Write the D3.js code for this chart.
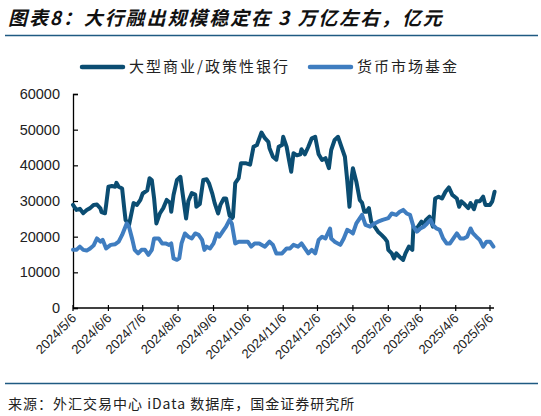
<!DOCTYPE html>
<html>
<head>
<meta charset="utf-8">
<script src="https://cdn.jsdelivr.net/npm/d3@7"></script>
<style>
  body { margin: 0; background: #fff; }
  svg { display: block; }
</style>
</head>
<body>
<div id="chart"></div>
<script>
// Data
var seriesNames = ["大型商业/政策性银行", "货币市场基金"];
var tickLabels = ["2024/5/6", "2024/6/6", "2024/7/6", "2024/8/6", "2024/9/6", "2024/10/6", "2024/11/6",
    "2024/12/6", "2025/1/6", "2025/2/6", "2025/3/6", "2025/4/6", "2025/5/6"];
var yTicks = [0, 10000, 20000, 30000, 40000, 50000, 60000];

// 大型商业/政策性银行
var bankDates = ["2024-05-06","2024-05-09","2024-05-12","2024-05-15","2024-05-18","2024-05-21","2024-05-24","2024-05-27",
    "2024-05-30","2024-05-31","2024-06-03","2024-06-04","2024-06-06","2024-06-09","2024-06-12","2024-06-13","2024-06-15",
    "2024-06-18","2024-06-20","2024-06-21","2024-06-24","2024-06-28","2024-07-01","2024-07-04","2024-07-06","2024-07-10",
    "2024-07-12","2024-07-14","2024-07-16","2024-07-18","2024-07-21","2024-07-24","2024-07-27","2024-07-30","2024-07-31",
    "2024-08-02","2024-08-05","2024-08-08","2024-08-10","2024-08-13","2024-08-15","2024-08-18","2024-08-21","2024-08-22",
    "2024-08-25","2024-08-28","2024-08-31","2024-09-02","2024-09-05","2024-09-07","2024-09-10","2024-09-12","2024-09-15",
    "2024-09-17","2024-09-20","2024-09-22","2024-09-23","2024-09-25","2024-09-28","2024-09-30","2024-10-04","2024-10-08",
    "2024-10-11","2024-10-14","2024-10-18","2024-10-21","2024-10-24","2024-10-25","2024-10-28","2024-10-31","2024-11-02",
    "2024-11-05","2024-11-06","2024-11-09","2024-11-11","2024-11-13","2024-11-15","2024-11-18","2024-11-21","2024-11-22",
    "2024-11-25","2024-11-28","2024-12-01","2024-12-04","2024-12-07","2024-12-10","2024-12-13","2024-12-16","2024-12-18",
    "2024-12-21","2024-12-24","2024-12-27","2024-12-30","2025-01-01","2025-01-03","2025-01-05","2025-01-06","2025-01-09",
    "2025-01-12","2025-01-14","2025-01-16","2025-01-18","2025-01-20","2025-01-22","2025-01-25","2025-01-28","2025-01-31",
    "2025-02-03","2025-02-05","2025-02-06","2025-02-09","2025-02-11","2025-02-13","2025-02-16","2025-02-19","2025-02-21",
    "2025-02-24","2025-02-27","2025-02-28","2025-03-01","2025-03-04","2025-03-07","2025-03-09","2025-03-11","2025-03-14",
    "2025-03-17","2025-03-19","2025-03-22","2025-03-25","2025-03-28","2025-03-31","2025-04-03","2025-04-07","2025-04-09",
    "2025-04-11","2025-04-14","2025-04-17","2025-04-19","2025-04-22","2025-04-24","2025-04-27","2025-04-30","2025-05-02",
    "2025-05-06","2025-05-08","2025-05-10"];
var bankValues = [28900, 27500, 27800, 26600, 27500, 28000, 28900, 29000,
    27950, 26900, 26550, 28900, 34000, 34200, 34000, 35100, 34000,
    33500, 27500, 24700, 23200, 29400, 28900, 30300, 32100, 33000,
    36400, 35800, 30700, 23700, 26500, 28000, 30300, 29500, 27000,
    31700, 35900, 36800, 32000, 25100, 30000, 32200, 31800, 28400,
    29200, 35900, 36100, 35000, 32000, 29400, 26500, 28900, 30700,
    30700, 26000, 25100, 25500, 35000, 36400, 40600, 40600, 40200,
    45200, 45700, 49200, 47600, 46600, 44800, 42400, 41600, 45200,
    45700, 48000, 45200, 41600, 38200, 43400, 42800, 43100, 44500,
    43100, 45200, 47600, 48000, 43100, 41500, 42000, 39200, 44300,
    47100, 48000, 45200, 42400, 35900, 28400, 36800, 39200, 35400,
    30300, 29500, 27000, 27000, 28000, 24200, 22800, 21400, 20500,
    19500, 18600, 16300, 15300, 13900, 15300, 14300, 13500, 15300,
    17200, 16300, 22800, 21900, 22800, 24200, 23300, 24700, 25600,
    22800, 30700, 31200, 30700, 32600, 33800, 31700, 30700, 28400,
    29900, 29000, 28000, 29400, 27700, 29900, 29900, 31200, 28900,
    28900, 29900, 32600];

// 货币市场基金
var fundDates = ["2024-05-06","2024-05-09","2024-05-12","2024-05-15","2024-05-18","2024-05-21","2024-05-24","2024-05-27",
    "2024-05-30","2024-06-01","2024-06-04","2024-06-08","2024-06-12","2024-06-15","2024-06-18","2024-06-22","2024-06-24",
    "2024-06-27","2024-06-29","2024-07-02","2024-07-05","2024-07-08","2024-07-11","2024-07-14","2024-07-16","2024-07-20",
    "2024-07-23","2024-07-26","2024-07-29","2024-07-31","2024-08-02","2024-08-05","2024-08-07","2024-08-09","2024-08-12",
    "2024-08-15","2024-08-18","2024-08-21","2024-08-24","2024-08-27","2024-08-29","2024-08-31","2024-09-03","2024-09-06",
    "2024-09-09","2024-09-11","2024-09-15","2024-09-17","2024-09-20","2024-09-22","2024-09-25","2024-09-28","2024-10-02",
    "2024-10-06","2024-10-09","2024-10-12","2024-10-16","2024-10-21","2024-10-25","2024-10-28","2024-10-31","2024-11-05",
    "2024-11-09","2024-11-12","2024-11-15","2024-11-19","2024-11-22","2024-11-25","2024-11-28","2024-12-01","2024-12-04",
    "2024-12-07","2024-12-10","2024-12-13","2024-12-17","2024-12-18","2024-12-21","2024-12-26","2024-12-29","2025-01-01",
    "2025-01-04","2025-01-06","2025-01-09","2025-01-14","2025-01-17","2025-01-21","2025-01-25","2025-01-28","2025-02-01",
    "2025-02-06","2025-02-09","2025-02-13","2025-02-16","2025-02-19","2025-02-22","2025-02-25","2025-02-28","2025-03-03",
    "2025-03-06","2025-03-09","2025-03-12","2025-03-15","2025-03-17","2025-03-20","2025-03-23","2025-03-26","2025-03-29",
    "2025-04-01","2025-04-04","2025-04-07","2025-04-10","2025-04-13","2025-04-16","2025-04-19","2025-04-21","2025-04-24",
    "2025-04-27","2025-04-30","2025-05-03","2025-05-06","2025-05-09"];
var fundValues = [16300, 16300, 17200, 16300, 16100, 16700, 17500, 19500,
    18600, 19100, 16700, 17700, 17900, 18600, 20500, 23700, 22800,
    19100, 16300, 15300, 16300, 16300, 14900, 16300, 19500, 19500,
    18100, 18100, 17700, 18100, 13900, 13500, 13900, 18100, 20900,
    20000, 19500, 20900, 20500, 19100, 16300, 17200, 16700, 18100,
    20900, 20000, 21900, 22800, 24700, 23700, 18100, 18600, 18600,
    18600, 17200, 18100, 18100, 17200, 18600, 17700, 15300, 15300,
    16700, 16700, 17700, 17200, 18100, 16700, 15300, 16300, 15300,
    19100, 20000, 19500, 22300, 19500, 18600, 17700, 19500, 21900,
    21400, 20900, 23700, 26100, 23300, 22800, 23700, 24200, 24700,
    25200, 26500, 26100, 27000, 27500, 26500, 26100, 22800, 21400,
    22300, 22800, 23700, 24700, 23300, 22300, 21900, 19500, 18100,
    18100, 19500, 20900, 19500, 19500, 20000, 22300, 21000, 20000,
    19100, 17200, 18600, 18600, 17200];

var colors = ["#0b4d72", "#3f7dc0"];
var frameColor = "#1f5a82";

// dimensions
var svgWidth = 541;
var svgHeight = 416;
var plotLeft = 73, plotRight = 490, plotTop = 94, plotBottom = 308;

var cjkFont = "'Noto Sans CJK SC', 'Noto Sans', sans-serif";
var numFont = "'Liberation Sans', Arial, sans-serif";

var parseDate = d3.timeParse("%Y-%m-%d");
var parseTick = d3.timeParse("%Y/%m/%d");

var svg = d3.select("#chart")
    .append("svg")
        .attr("width", svgWidth)
        .attr("height", svgHeight);

// Title and rules
svg.append("text")
    .attr("x", 8)
    .attr("y", 25)
    .attr("font-family", cjkFont)
    .attr("font-size", 19)
    .attr("font-weight", "bold")
    .attr("font-style", "italic")
    .attr("letter-spacing", 1.9)
    .attr("fill", "#111")
    .text("图表8：大行融出规模稳定在 3 万亿左右，亿元");

svg.append("line")
    .attr("x1", 5).attr("x2", 538)
    .attr("y1", 35.5).attr("y2", 35.5)
    .attr("stroke", frameColor)
    .attr("stroke-width", 1.5);

svg.append("line")
    .attr("x1", 5).attr("x2", 538)
    .attr("y1", 383.5).attr("y2", 383.5)
    .attr("stroke", frameColor)
    .attr("stroke-width", 1.5);

svg.append("text")
    .attr("x", 8)
    .attr("y", 409)
    .attr("font-family", cjkFont)
    .attr("font-size", 14)
    .attr("letter-spacing", 1)
    .attr("fill", "#222")
    .text("来源：外汇交易中心 iData 数据库，国金证券研究所");

// Legend
var legendX = [82, 310];
seriesNames.forEach(function(name, i) {
    svg.append("line")
        .attr("x1", legendX[i]).attr("x2", legendX[i] + 41)
        .attr("y1", 67).attr("y2", 67)
        .attr("stroke", colors[i])
        .attr("stroke-width", 4.5)
        .attr("stroke-linecap", "round");
    svg.append("text")
        .attr("x", legendX[i] + 47)
        .attr("y", 72)
        .attr("font-family", cjkFont)
        .attr("font-size", 15)
        .attr("letter-spacing", 2)
        .attr("fill", "#222")
        .text(name);
});

// Scales
var x = d3.scaleTime()
    .domain([parseTick(tickLabels[0]), parseTick(tickLabels[tickLabels.length - 1])])
    .range([plotLeft, plotRight]);
var y = d3.scaleLinear()
    .domain([0, 60000])
    .range([plotBottom, plotTop]);

// Y axis (ticks point inward)
var yAxis = svg.append("g")
    .attr("transform", "translate(" + plotLeft + ",0)")
    .call(d3.axisRight(y).tickValues(yTicks).tickSize(5).tickFormat(""));
yAxis.select(".domain").attr("stroke", "#000").attr("stroke-width", 1.3);
yAxis.selectAll(".tick line").attr("stroke", "#000").attr("stroke-width", 1.2);

svg.append("g").selectAll("text")
    .data(yTicks)
    .enter()
    .append("text")
        .attr("x", plotLeft - 13)
        .attr("y", function(d) { return y(d) + 5; })
        .attr("text-anchor", "end")
        .attr("font-family", numFont)
        .attr("font-size", 14.5)
        .attr("fill", "#222")
        .text(function(d) { return d; });

// X axis (ticks cross the axis)
var xAxisG = svg.append("g")
    .attr("transform", "translate(0," + plotBottom + ")");
xAxisG.append("line")
    .attr("x1", plotLeft).attr("x2", plotRight + 4)
    .attr("y1", 0).attr("y2", 0)
    .attr("stroke", "#000")
    .attr("stroke-width", 1.3);
xAxisG.selectAll(".xtick")
    .data(tickLabels)
    .enter()
    .append("line")
        .attr("class", "xtick")
        .attr("x1", function(d) { return x(parseTick(d)); })
        .attr("x2", function(d) { return x(parseTick(d)); })
        .attr("y1", -3).attr("y2", 3)
        .attr("stroke", "#000")
        .attr("stroke-width", 1.2);
xAxisG.selectAll(".xlabel")
    .data(tickLabels)
    .enter()
    .append("text")
        .attr("class", "xlabel")
        .attr("transform", function(d) {
            return "translate(" + (x(parseTick(d)) + 4) + ",11) rotate(-45)";
        })
        .attr("text-anchor", "end")
        .attr("font-family", numFont)
        .attr("font-size", 13)
        .attr("fill", "#222")
        .text(function(d) { return d; });

// Lines
var line = d3.line()
    .x(function(d) { return x(d.date); })
    .y(function(d) { return y(d.value); });

var bankData = bankDates.map(function(d, i) { return { date: parseDate(d), value: bankValues[i] }; });
var fundData = fundDates.map(function(d, i) { return { date: parseDate(d), value: fundValues[i] }; });

[bankData, fundData].forEach(function(data, i) {
    svg.append("path")
        .datum(data)
        .attr("d", line)
        .attr("fill", "none")
        .attr("stroke", colors[i])
        .attr("stroke-width", 4)
        .attr("stroke-linejoin", "round")
        .attr("stroke-linecap", "round");
});
</script>
</body>
</html>
